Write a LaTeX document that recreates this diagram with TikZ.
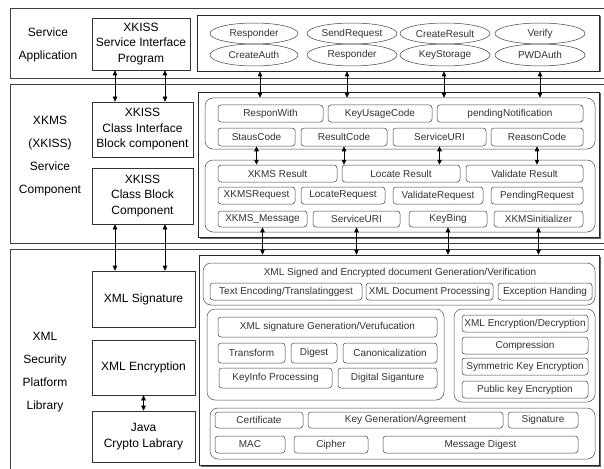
\documentclass[tikz,border=0pt]{standalone}
\usepackage{fontspec}
\setmainfont{Liberation Sans}
\usetikzlibrary{shapes.geometric,arrows.meta,shadows}
\newcommand{\mkbox}[7][ibox]{\node[#1, minimum width={(#5-#3)*1pt}, minimum height={(#6-#4)*1pt}] (#2) at ({(#3+#5)/2},{(#4+#6)/2}) {#7};}
\begin{document}
\begin{tikzpicture}[x=1pt,y=-1pt,
 layer/.style={draw=black!75, line width=0.7pt, inner sep=0pt},
 lbox/.style={draw=black!80, line width=0.6pt, align=center, inner sep=0pt, font=\fontsize{12}{15.5}\selectfont},
 panel/.style={draw=black!85, line width=0.6pt, fill=white, inner sep=0pt, drop shadow={shadow xshift=1.5pt,shadow yshift=-1.5pt,fill=black!60,opacity=1}},
 grp/.style={draw=black!70, line width=0.5pt, rounded corners=8pt, inner sep=0pt},
 ibox/.style={draw=black!75, line width=0.5pt, rounded corners=3pt, inner sep=0pt, font=\fontsize{10}{11}\selectfont, text=black!80},
 ell/.style={draw=black!75, ellipse, line width=0.5pt, inner sep=0pt, font=\fontsize{10}{11}\selectfont, text=black!80},
 lab/.style={align=center, font=\fontsize{12}{23}\selectfont},
 arr/.style={{Triangle[length=5pt,width=4.5pt]}-{Triangle[length=5pt,width=4.5pt]}, line width=0.6pt},
]
\useasboundingbox (0,0) rectangle (604,468);
\clip (0,0) rectangle (604,468);
% layers
\mkbox[layer]{L1}{10}{8}{614}{78}{}
\mkbox[layer]{L2}{10}{84}{614}{243}{}
\mkbox[layer]{L3}{10}{249}{614}{480}{}
% layer labels
\node[lab] (t1) at (48,45) {Service\\Application};
\node[lab] (t2) at (50,156) {XKMS\\(XKISS)\\Service\\Component};
\node[lab] (t3) at (45,372) {XML\\Security\\Platform\\Library};
% left boxes
\mkbox[lbox]{sip}{92}{18}{190}{70}{XKISS\\Service Interface\\Program}
\mkbox[lbox]{cib}{92}{102}{193}{157}{XKISS\\Class Interface\\Block component}
\mkbox[lbox]{cbc}{92}{168}{193}{224}{XKISS\\Class Block\\Component}
\mkbox[lbox]{xsig}{92}{271}{195}{327}{XML Signature}
\mkbox[lbox]{xenc}{92}{340}{195}{395}{XML Encryption}
\mkbox[lbox]{java}{92}{411}{195}{462}{Java\\Crypto Labrary}
% panels
\mkbox[panel]{P1}{197}{15}{599}{71}{}
\mkbox[panel]{P2}{198}{92}{599}{237}{}
\mkbox[panel]{P3}{199}{255}{599}{465}{}
% ellipses
\mkbox[ell]{e11}{210}{23}{298}{44}{Responder}
\mkbox[ell]{e12}{307}{23}{397}{44}{SendRequest}
\mkbox[ell]{e13}{400}{23}{490}{44}{CreateResult}
\mkbox[ell]{e14}{495}{23}{585}{44}{Verify}
\mkbox[ell]{e21}{210}{44}{298}{66}{CreateAuth}
\mkbox[ell]{e22}{307}{44}{397}{66}{Responder}
\mkbox[ell]{e23}{400}{44}{490}{66}{KeyStorage}
\mkbox[ell]{e24}{495}{44}{585}{66}{PWDAuth}
% group A
\mkbox[grp]{A}{205}{98}{595}{149}{}
\mkbox{rw}{218}{105}{323}{122}{ResponWith}
\mkbox{kuc}{328}{105}{432}{122}{KeyUsageCode}
\mkbox{pn}{437}{105}{583}{122}{pendingNotification}
\mkbox{stc}{218}{128}{295}{146}{StausCode}
\mkbox{rc}{301}{128}{387}{146}{ResultCode}
\mkbox{suri}{393}{128}{486}{146}{ServiceURI}
\mkbox{rsc}{491}{128}{583}{146}{ReasonCode}
% group B
\mkbox[grp]{B}{205}{160}{595}{232}{}
\mkbox{xres}{218}{165}{337}{182}{XKMS Result}
\mkbox{lres}{342}{165}{460}{182}{Locate Result}
\mkbox{vres}{466}{165}{583}{182}{Validate Result}
\mkbox{xreq}{218}{187}{295}{204}{XKMSRequest}
\mkbox{lreq}{301}{187}{385}{204}{LocateRequest}
\mkbox{vreq}{393}{187}{483}{204}{ValidateRequest}
\mkbox{preq}{491}{187}{583}{204}{PendingRequest}
\mkbox{xmsg}{218}{211}{307}{227}{XKMS\_Message}
\mkbox{surib}{313}{211}{400}{227}{ServiceURI}
\mkbox{kb}{409}{211}{487}{227}{KeyBing}
\mkbox{xini}{494}{211}{583}{227}{XKMSinitializer}
% group C
\mkbox[grp]{C}{203}{263}{595}{305}{}
\node[font=\fontsize{10}{11}\selectfont, text=black!80] (ctitle) at (400,273) {XML Signed and Encrypted document Generation/Verification};
\mkbox{tenc}{210}{283}{362}{300}{Text Encoding/Translatinggest}
\mkbox{xdp}{366}{283}{493}{300}{XML Document Processing}
\mkbox{exh}{498}{283}{592}{300}{Exception Handing}
% group D
\mkbox[grp]{D}{207}{309}{444}{400}{}
\mkbox{xsg}{218}{317}{437}{337}{XML signature Generation/Verufucation}
\mkbox{tf}{218}{343}{285}{363}{Transform}
\mkbox{dg}{291}{343}{337}{363}{Digest}
\mkbox{can}{343}{343}{437}{363}{Canonicalization}
\mkbox{kip}{219}{368}{332}{388}{KeyInfo Processing}
\mkbox{dsig}{338}{368}{437}{388}{Digital Siganture}
% group E
\mkbox[grp]{E}{454}{309}{595}{402}{}
\mkbox{xed}{462}{315}{588}{332}{XML Encryption/Decryption}
\mkbox{cmp}{462}{337}{588}{354}{Compression}
\mkbox{ske}{462}{358}{588}{375}{Symmetric Key Encryption}
\mkbox{pke}{462}{381}{588}{398}{Public key Encryption}
% group F
\mkbox[grp]{F}{210}{408}{595}{459}{}
\mkbox{cert}{215}{412}{303}{428}{Certificate}
\mkbox{kga}{308}{412}{503}{428}{Key Generation/Agreement}
\mkbox{sig}{508}{412}{578}{428}{Signature}
\mkbox{mac}{215}{436}{285}{453}{MAC}
\mkbox{ciph}{294}{436}{368}{453}{Cipher}
\mkbox{md}{383}{436}{578}{453}{Message Digest}
% helper coordinates
\coordinate (cl) at (115,0);
\coordinate (cr) at (165,0);
\coordinate (a1) at (260,0);
\coordinate (a2) at (347,0);
\coordinate (a3) at (444,0);
\coordinate (a4) at (540,0);
% left arrows
\draw[arr] (sip.south -| cl) -- (cib.north -| cl);
\draw[arr] (sip.south -| cr) -- (cib.north -| cr);
\draw[arr] (cbc.south -| cl) -- (xsig.north -| cl);
\draw[arr] (cbc.south -| cr) -- (xsig.north -| cr);
\draw[arr] (xenc.south) -- (java.north);
% panel 1 to group A
\foreach \c in {a1,a2,a3,a4}{\draw[arr] (\c |- P1.south) -- (\c |- A.north);}
% group A to group B
\draw[arr] (stc.south) -- (stc.south |- xres.north);
\draw[arr] (rc.south) -- (rc.south |- lres.north);
\draw[arr] (suri.south) -- (suri.south |- lres.north);
\draw[arr] (rsc.south) -- (rsc.south |- vres.north);
% group B to panel 3
\draw[arr] (xmsg.south) -- (xmsg.south |- P3.north);
\draw[arr] (surib.south) -- (surib.south |- P3.north);
\draw[arr] (kb.south) -- (kb.south |- P3.north);
\draw[arr] (xini.south) -- (xini.south |- P3.north);
\end{tikzpicture}
\end{document}
